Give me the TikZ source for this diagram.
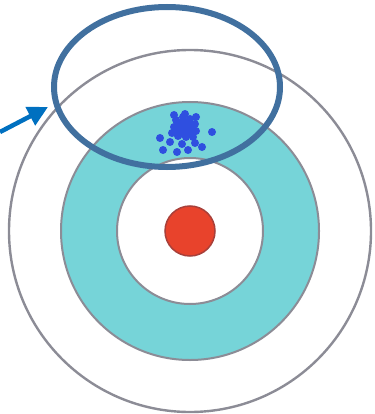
\documentclass[tikz,border=0pt]{standalone}
\usepackage{tikz}
\usetikzlibrary{arrows.meta}

\definecolor{ringgray}{HTML}{8C8C96}
\definecolor{ringteal}{HTML}{76D4D8}
\definecolor{bullred}{HTML}{E8432C}
\definecolor{bulledge}{HTML}{A8403A}
\definecolor{hitblue}{HTML}{2F4FE0}
\definecolor{focusblue}{HTML}{41709F}
\definecolor{arrowblue}{HTML}{0070C0}

\begin{document}
\begin{tikzpicture}[
  x=1pt, y=-1pt,
  ring/.style={draw=ringgray, line width=2.4pt},
  hit/.style={fill=hitblue},
  focus/.style={draw=focusblue, line width=6pt},
  pointer/.style={draw=arrowblue, line width=4.5pt, -{Triangle[length=20pt, width=20pt]}}
]
\useasboundingbox (0,0) rectangle (374,414);

% Target rings
\coordinate (centre) at (190,231);
\draw[ring, fill=white] (centre) circle[radius=181];
\draw[ring, line width=2pt, fill=ringteal] (centre) circle[radius=129];
\draw[ring, line width=2pt, fill=white] (centre) circle[radius=73];
\draw[draw=bulledge, line width=1.5pt, fill=bullred] (centre) circle[radius=25];

% Cluster of hits
\fill[hit] (184,128) ellipse[x radius=11, y radius=10];
\foreach \x/\y in {176/120, 183/117, 190/119, 195/124, 174/127, 196/131,
                   178/136, 186/137, 193/137, 172/133, 174/115, 185/114,
                   196/117, 160/138, 212/132, 163/150, 177/152, 188/150,
                   202/147, 182/144, 170/142, 195/143}{
  \fill[hit] (\x,\y) circle[radius=4];
}

% Highlight and pointer
\coordinate (focuscentre) at (167,87);
\draw[focus] (focuscentre) ellipse[x radius=113, y radius=80];
\coordinate (tail) at (0,132);
\coordinate (tip) at (48,107);
\draw[pointer] (tail) -- (tip);
\end{tikzpicture}
\end{document}
